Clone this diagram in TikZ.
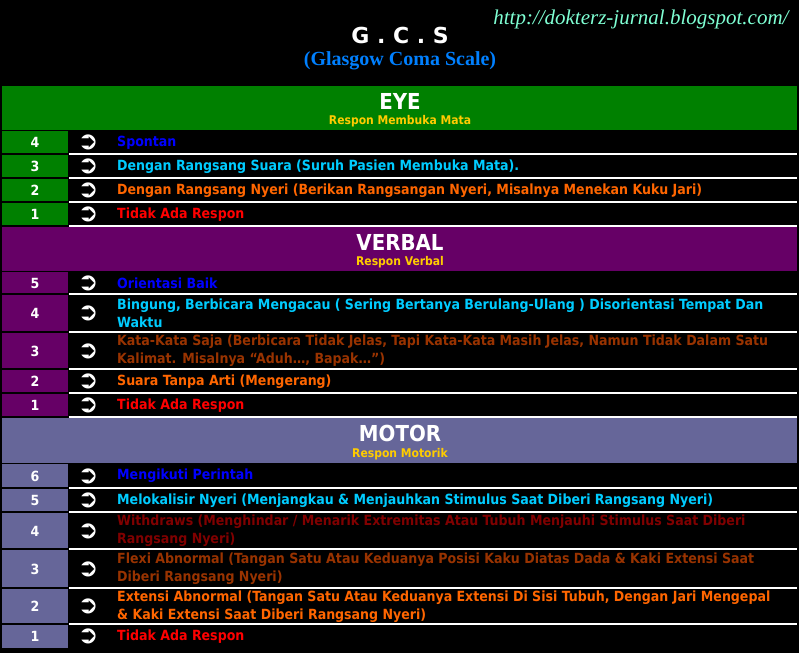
\documentclass[tikz,border=0pt]{standalone}
\usepackage{fontspec}
\setmainfont{DejaVu Sans Condensed}
\newfontfamily\symf{DejaVu Sans}
\newfontfamily\serf{Liberation Serif}
\usetikzlibrary{positioning}
\definecolor{eyeg}{HTML}{008000}
\definecolor{verp}{HTML}{660066}
\definecolor{motp}{HTML}{666699}
\definecolor{cBlue}{HTML}{0000FF}
\definecolor{cCyan}{HTML}{00CCFF}
\definecolor{cOr}{HTML}{FF6600}
\definecolor{cRed}{HTML}{FF0000}
\definecolor{cBr}{HTML}{993300}
\definecolor{cDk}{HTML}{800000}
\definecolor{cGold}{HTML}{FFCC00}
\definecolor{cUrl}{HTML}{7FFFD4}
\definecolor{cTitle}{HTML}{0080FF}
\tikzset{
  numtxt/.style={text=white,font=\fontsize{14}{16}\selectfont\bfseries,inner sep=0},
  desc/.style={anchor=west,align=left,inner sep=0,font=\fontsize{14}{18}\selectfont\bfseries},
  arr/.style={text=white,font=\symf\fontsize{25}{25}\selectfont\bfseries,inner sep=0},
  sep/.style={white,line width=1.2pt},
  hdr/.style={text=white,font=\fontsize{22}{24}\selectfont\bfseries,inner sep=0},
  sub/.style={text=cGold,font=\fontsize{12}{14}\selectfont\bfseries,inner sep=0}
}
% #1 name, #2 y1, #3 y2, #4 fill, #5 num, #6 color, #7 text
\newcommand{\gcsrow}[7]{%
  \fill[#4] (2,#2) rectangle (68,#3-1);
  \node[numtxt] (n#1) at (35,{(#2+#3)/2}) {#5};
  \node[arr] (a#1) at (88,{(#2+#3)/2}) {➲};
  \node[desc,text=#6] (t#1) at (117,{(#2+#3)/2}) {#7};
  \draw[sep] (69,#3) -- (797,#3);
}
\begin{document}
\begin{tikzpicture}[x=1pt,y=-1pt]
\fill[black] (0,0) rectangle (799,653);
\useasboundingbox (0,0) rectangle (799,653);
\node[text=white,font=\symf\fontsize{22}{24}\selectfont\bfseries] (gcs) at (400,35) {G . C . S};
\node[text=cTitle,font=\serf\fontsize{20}{22}\selectfont\bfseries] (full) at (400,61) {(Glasgow Coma Scale)};
\node[text=cUrl,font=\serf\fontsize{21}{23}\selectfont\itshape,anchor=east] (url) at (792,19) {http://dokterz-jurnal.blogspot.com/};
% EYE
\fill[eyeg] (2,86) rectangle (797,130);
\node[hdr] (eye) at (400,101) {EYE};
\node[sub] (eyes) at (400,121) {Respon Membuka Mata};
\gcsrow{e4}{131}{154}{eyeg}{4}{cBlue}{Spontan}
\gcsrow{e3}{155}{178}{eyeg}{3}{cCyan}{Dengan Rangsang Suara (Suruh Pasien Membuka Mata).}
\gcsrow{e2}{179}{202}{eyeg}{2}{cOr}{Dengan Rangsang Nyeri (Berikan Rangsangan Nyeri, Misalnya Menekan Kuku Jari)}
\gcsrow{e1}{203}{226}{eyeg}{1}{cRed}{Tidak Ada Respon}
% VERBAL
\fill[verp] (2,227) rectangle (797,271);
\node[hdr] (ver) at (400,242) {VERBAL};
\node[sub] (vers) at (400,262) {Respon Verbal};
\gcsrow{v5}{272}{294}{verp}{5}{cBlue}{Orientasi Baik}
\gcsrow{v4}{295}{332}{verp}{4}{cCyan}{Bingung, Berbicara Mengacau ( Sering Bertanya Berulang-Ulang ) Disorientasi Tempat Dan\\Waktu}
\gcsrow{v3}{333}{369}{verp}{3}{cBr}{Kata-Kata Saja (Berbicara Tidak Jelas, Tapi Kata-Kata Masih  Jelas, Namun Tidak Dalam Satu\\Kalimat. Misalnya “Aduh…, Bapak…”)}
\gcsrow{v2}{370}{393}{verp}{2}{cOr}{Suara Tanpa Arti (Mengerang)}
\gcsrow{v1}{394}{417}{verp}{1}{cRed}{Tidak Ada Respon}
% MOTOR
\fill[motp] (2,418) rectangle (797,463);
\node[hdr] (mot) at (400,433) {MOTOR};
\node[sub] (mots) at (400,454) {Respon Motorik};
\gcsrow{m6}{464}{488}{motp}{6}{cBlue}{Mengikuti Perintah}
\gcsrow{m5}{489}{512}{motp}{5}{cCyan}{Melokalisir Nyeri (Menjangkau \& Menjauhkan Stimulus Saat Diberi Rangsang Nyeri)}
\gcsrow{m4}{513}{549}{motp}{4}{cDk}{Withdraws (Menghindar / Menarik Extremitas Atau Tubuh Menjauhi Stimulus Saat Diberi\\Rangsang Nyeri)}
\gcsrow{m3}{550}{588}{motp}{3}{cBr}{Flexi Abnormal (Tangan Satu Atau Keduanya Posisi Kaku Diatas Dada \& Kaki Extensi Saat\\Diberi Rangsang Nyeri)}
\gcsrow{m2}{589}{624}{motp}{2}{cOr}{Extensi Abnormal (Tangan Satu Atau Keduanya Extensi Di Sisi Tubuh, Dengan Jari Mengepal\\\& Kaki Extensi Saat Diberi Rangsang Nyeri)}
\fill[motp] (2,625) rectangle (68,648);
\node[numtxt] (nm1) at (35,636.5) {1};
\node[arr] (am1) at (88,636.5) {➲};
\node[desc,text=cRed] (tm1) at (117,636.5) {Tidak Ada Respon};
\end{tikzpicture}
\end{document}
